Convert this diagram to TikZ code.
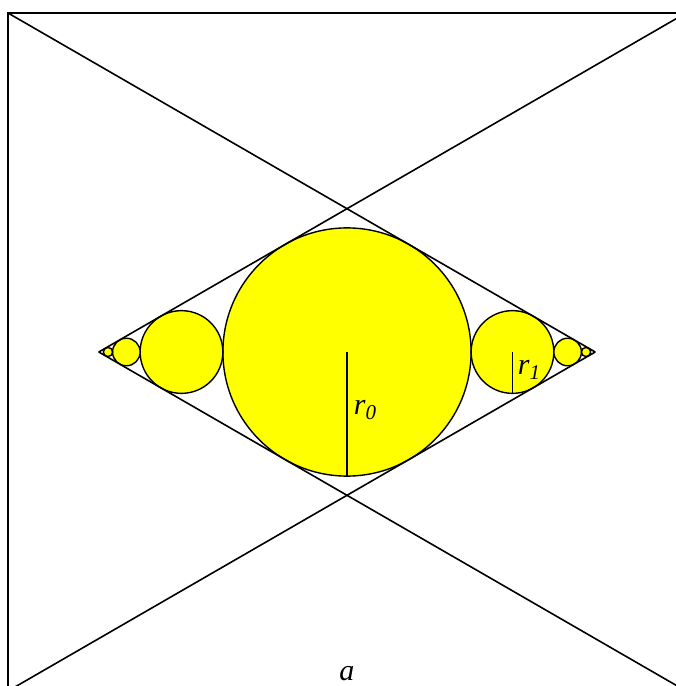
\documentclass[tikz,border=0pt]{standalone}
\usepackage{fontspec}
\setmainfont{Liberation Serif}
\definecolor{discyellow}{RGB}{255,255,0}
\begin{document}
\begin{tikzpicture}[x=1pt,y=1pt,
  edge/.style={line width=1.6pt, black},
  disc/.style={circle, fill=discyellow, draw=black, line width=1.4pt, inner sep=0pt, outer sep=0pt},
  radline/.style={line width=1.5pt, black},
  lbl/.style={font=\fontsize{30}{30}\selectfont\itshape, inner sep=0pt}]
\useasboundingbox (-347,-334) rectangle (329,352);
\clip (-347,-334) rectangle (329,352);
% geometry
\pgfmathsetmacro{\Lh}{339}
\pgfmathsetmacro{\hh}{339*(1-tan(30))}
\pgfmathsetmacro{\ww}{\hh/tan(30)}
\pgfmathsetmacro{\rz}{\hh*cos(30)}
\coordinate (TL) at (-\Lh,\Lh);
\coordinate (TR) at (\Lh,\Lh);
\coordinate (BL) at (-\Lh,-\Lh);
\coordinate (BR) at (\Lh,-\Lh);
\coordinate (T) at (0,\hh);
\coordinate (B) at (0,-\hh);
\coordinate (L) at (-\ww,0);
\coordinate (R) at (\ww,0);
% circles
\node[disc, minimum size=2*\rz] (c0) at (0,0) {};
\foreach \n/\f in {1/3,2/9,3/27}{
  \pgfmathsetmacro{\rr}{\rz/\f}
  \node[disc, minimum size=2*\rr] (cr\n) at (\ww-2*\rr,0) {};
  \node[disc, minimum size=2*\rr] (cl\n) at (-\ww+2*\rr,0) {};
}
% frame and lines
\draw[edge] (BL) rectangle (TR);
\draw[edge] (TL) -- (T) -- (R);
\draw[edge] (TR) -- (T) -- (L);
\draw[edge] (BL) -- (B) -- (R);
\draw[edge] (BR) -- (B) -- (L);
% radii
\draw[radline] (c0.center) -- (c0.south);
\draw[radline] (cr1.center) -- (cr1.south);
% labels
\node[lbl] (l0) at (18,-58) {r\raisebox{-5pt}{\fontsize{21}{21}\selectfont 0}};
\node[lbl] (l1) at (182,-18) {r\raisebox{-5pt}{\fontsize{21}{21}\selectfont 1}};
\node[lbl] (la) at (0,-322) {a};
\end{tikzpicture}
\end{document}
